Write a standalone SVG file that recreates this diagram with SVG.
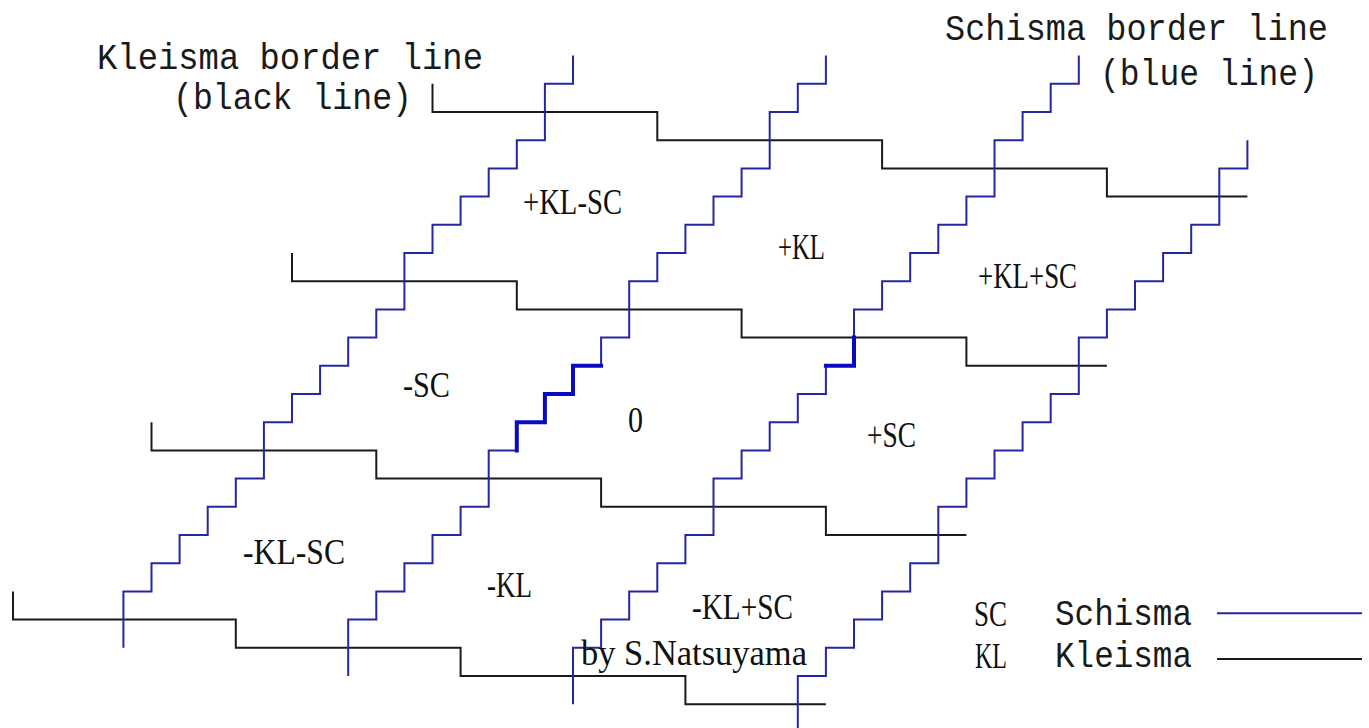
<svg xmlns="http://www.w3.org/2000/svg" width="1369" height="728" viewBox="0 0 1369 728">
<style>
.bg{fill:#ffffff}
.kl{fill:none;stroke:#1a1a1a;stroke-width:2;stroke-linejoin:miter}
.sc{fill:none;stroke:#2626a2;stroke-width:2;stroke-linejoin:miter}
.scb{fill:none;stroke:#0a0ac0;stroke-width:4;stroke-linejoin:miter;stroke-linecap:square}
.lab{font-family:"Liberation Serif","Times New Roman",serif;font-size:35px;fill:#111}
.mono{font-family:"Liberation Mono","DejaVu Sans Mono",monospace;font-size:36px;fill:#1a1a1a}
</style>
<rect class="bg" x="0" y="0" width="1369" height="728"/>
<g id="connectors">
  <g id="kleisma-lines">
    <path class="kl" d="M432.5,83.8 V112 H657.3 V140.2 H882.1 V168.4 H1106.9 V196.6 H1247.4"/>
    <path class="kl" d="M292,253 V281.2 H516.8 V309.4 H741.6 V337.6 H966.4 V365.8 H1106.9"/>
    <path class="kl" d="M151.5,422.2 V450.4 H376.3 V478.6 H601.1 V506.8 H825.9 V535 H966.4"/>
    <path class="kl" d="M13,591.4 V619.6 H235.8 V647.8 H460.6 V676 H685.4 V704.2 H825.9"/>
  </g>
  <g id="schisma-lines">
    <path class="sc" d="M123.4,647.8 V591.4 H151.5 V563.2 H179.6 V535 H207.7 V506.8 H235.8 V478.6 H263.9 V422.2 H292 V394 H320.1 V365.8 H348.2 V337.6 H376.3 V309.4 H404.4 V253 H432.5 V224.8 H460.6 V196.6 H488.7 V168.4 H516.8 V140.2 H544.9 V83.8 H573 V55.6"/>
    <path class="sc" d="M348.2,676 V619.6 H376.3 V591.4 H404.4 V563.2 H432.5 V535 H460.6 V506.8 H488.7 V450.4 H516.8 V422.2 H544.9 V394 H573 V365.8 H601.1 V337.6 H629.2 V281.2 H657.3 V253 H685.4 V224.8 H713.5 V196.6 H741.6 V168.4 H769.7 V112 H797.8 V83.8 H825.9 V55.6"/>
    <path class="sc" d="M573,704.2 V647.8 H601.1 V619.6 H629.2 V591.4 H657.3 V563.2 H685.4 V535 H713.5 V478.6 H741.6 V450.4 H769.7 V422.2 H797.8 V394 H825.9 V365.8 H854 V309.4 H882.1 V281.2 H910.2 V253 H938.3 V224.8 H966.4 V196.6 H994.5 V140.2 H1022.6 V112 H1050.7 V83.8 H1078.8 V55.6"/>
    <path class="sc" d="M797.8,732.4 V676 H825.9 V647.8 H854 V619.6 H882.1 V591.4 H910.2 V563.2 H938.3 V506.8 H966.4 V478.6 H994.5 V450.4 H1022.6 V422.2 H1050.7 V394 H1078.8 V337.6 H1106.9 V309.4 H1135 V281.2 H1163.1 V253 H1191.2 V224.8 H1219.3 V168.4 H1247.4 V140.2"/>
    <path class="scb" d="M516.8,450.4 V422.2 H544.9 V394 H573 V365.8 H601.1"/>
    <path class="scb" d="M825.9,365.8 H854 V337.6"/>
  </g>
  <g id="legend-lines">
    <path class="sc" d="M1217,613.3 H1362"/>
    <path class="kl" d="M1217,659 H1362"/>
  </g>
</g>
<g id="title-kleisma">
  <text class="mono" x="97" y="69" textLength="386" lengthAdjust="spacingAndGlyphs">Kleisma border line</text>
  <text class="mono" x="173" y="109" textLength="239" lengthAdjust="spacingAndGlyphs">(black line)</text>
</g>
<g id="title-schisma">
  <text class="mono" x="945" y="40" textLength="383" lengthAdjust="spacingAndGlyphs">Schisma border line</text>
  <text class="mono" x="1100" y="85" textLength="218" lengthAdjust="spacingAndGlyphs">(blue line)</text>
</g>
<g id="region-pKL-SC"><text class="lab" x="523" y="214" textLength="99" lengthAdjust="spacingAndGlyphs">+KL-SC</text></g>
<g id="region-pKL"><text class="lab" x="778" y="259" textLength="47" lengthAdjust="spacingAndGlyphs">+KL</text></g>
<g id="region-pKLpSC"><text class="lab" x="978" y="288" textLength="99" lengthAdjust="spacingAndGlyphs">+KL+SC</text></g>
<g id="region-mSC"><text class="lab" x="403" y="397" textLength="47" lengthAdjust="spacingAndGlyphs">-SC</text></g>
<g id="region-0"><text class="lab" x="628" y="432" textLength="15" lengthAdjust="spacingAndGlyphs">0</text></g>
<g id="region-pSC"><text class="lab" x="867" y="447" textLength="49" lengthAdjust="spacingAndGlyphs">+SC</text></g>
<g id="region-mKL-SC"><text class="lab" x="243" y="564" textLength="102" lengthAdjust="spacingAndGlyphs">-KL-SC</text></g>
<g id="region-mKL"><text class="lab" x="487" y="597" textLength="45" lengthAdjust="spacingAndGlyphs">-KL</text></g>
<g id="region-mKLpSC"><text class="lab" x="692" y="619" textLength="101" lengthAdjust="spacingAndGlyphs">-KL+SC</text></g>
<g id="credit"><text class="lab" x="581" y="665" textLength="226" lengthAdjust="spacingAndGlyphs">by S.Natsuyama</text></g>
<g id="legend">
  <text class="lab" x="974" y="626" textLength="33" lengthAdjust="spacingAndGlyphs">SC</text>
  <text class="mono" x="1055" y="625" textLength="137" lengthAdjust="spacingAndGlyphs">Schisma</text>
  <text class="lab" x="975" y="668" textLength="32" lengthAdjust="spacingAndGlyphs">KL</text>
  <text class="mono" x="1055" y="667" textLength="137" lengthAdjust="spacingAndGlyphs">Kleisma</text>
</g>
</svg>
